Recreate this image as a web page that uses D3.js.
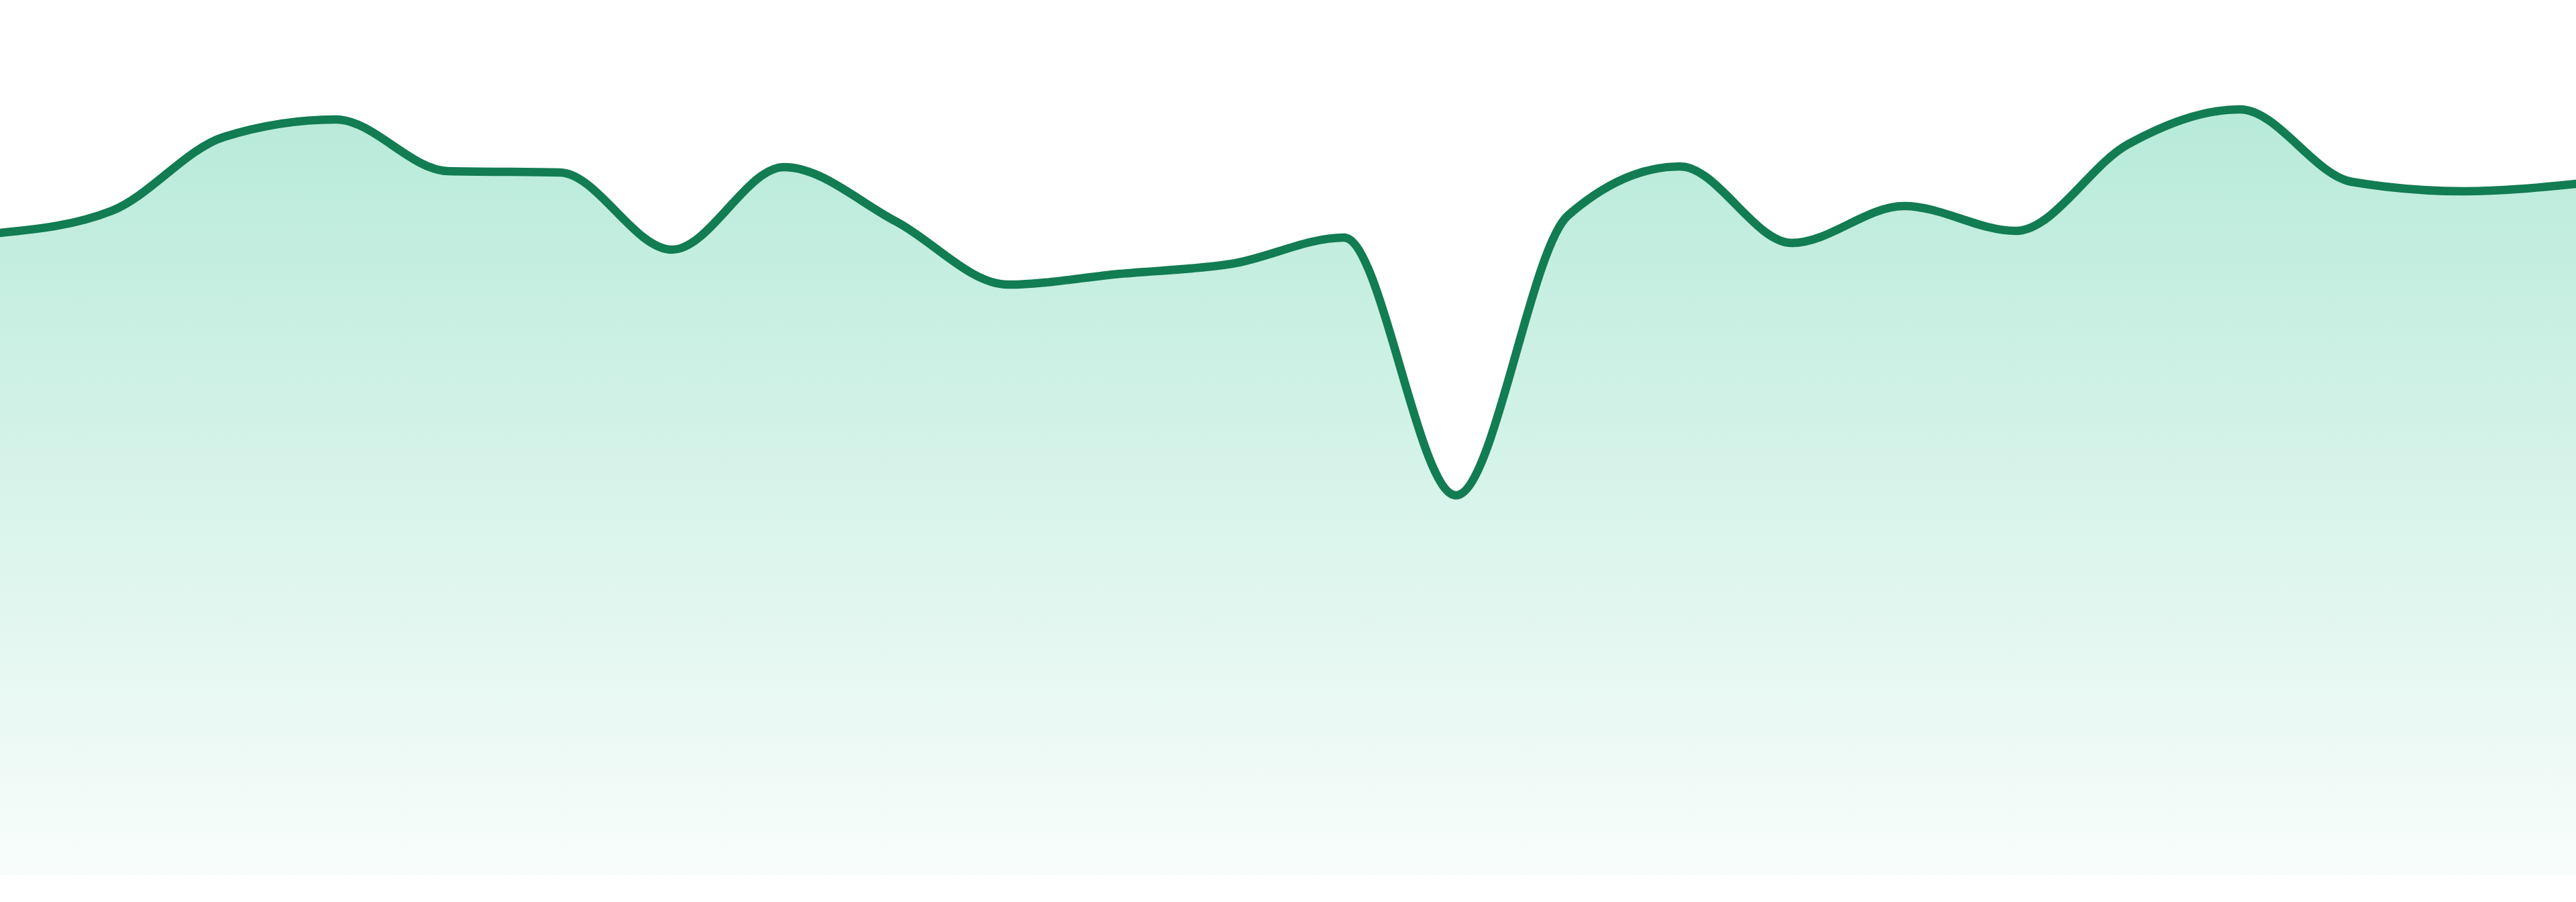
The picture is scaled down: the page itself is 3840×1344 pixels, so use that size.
<!DOCTYPE html>
<html>
<head>
<meta charset="utf-8">
<script src="https://cdn.jsdelivr.net/npm/d3@7"></script>
<style>
  html, body { margin: 0; padding: 0; background: #ffffff; }
  svg { display: block; }
</style>
</head>
<body>
<svg id="chart" width="3840" height="1344"></svg>
<script>
const categories = ["1","2","3","4","5","6","7","8","9","10","11","12","13","14","15","16","17","18","19","20","21","22","23","24"];
const values = [95.7, 99.0, 110.0, 112.6, 104.9, 104.7, 93.2, 105.5, 97.4, 88.0, 89.6, 91.1, 95.0, 56.6, 98.3, 105.6, 94.2, 99.7, 96.0, 108.9, 114.1, 103.3, 101.9, 103.0];
const yDomain = [0, 120];

const W = 3840, H = 1344;
const svg = d3.select("#chart");

const x = d3.scalePoint().domain(categories).range([0, W]);
const y = d3.scaleLinear().domain(yDomain).range([1304, 104]);

const data = categories.map((c, i) => ({ c, v: values[i] }));

const defs = svg.append("defs");
const grad = defs.append("linearGradient")
  .attr("id", "fillGrad")
  .attr("gradientUnits", "userSpaceOnUse")
  .attr("x1", 0).attr("x2", 0)
  .attr("y1", y(d3.max(values))).attr("y2", y(0));
grad.append("stop").attr("offset", "0%").attr("stop-color", "#10b981").attr("stop-opacity", 0.3);
grad.append("stop").attr("offset", "100%").attr("stop-color", "#10b981").attr("stop-opacity", 0.03);

const area = d3.area()
  .x(d => x(d.c))
  .y0(y(0))
  .y1(d => y(d.v))
  .curve(d3.curveMonotoneX);

const line = d3.line()
  .x(d => x(d.c))
  .y(d => y(d.v))
  .curve(d3.curveMonotoneX);

svg.append("path")
  .datum(data)
  .attr("d", area)
  .attr("fill", "url(#fillGrad)");

svg.append("path")
  .datum(data)
  .attr("d", line)
  .attr("fill", "none")
  .attr("stroke", "#127c53")
  .attr("stroke-width", 12.5)
  .attr("stroke-linejoin", "round")
  .attr("stroke-linecap", "round");
</script>
</body>
</html>
